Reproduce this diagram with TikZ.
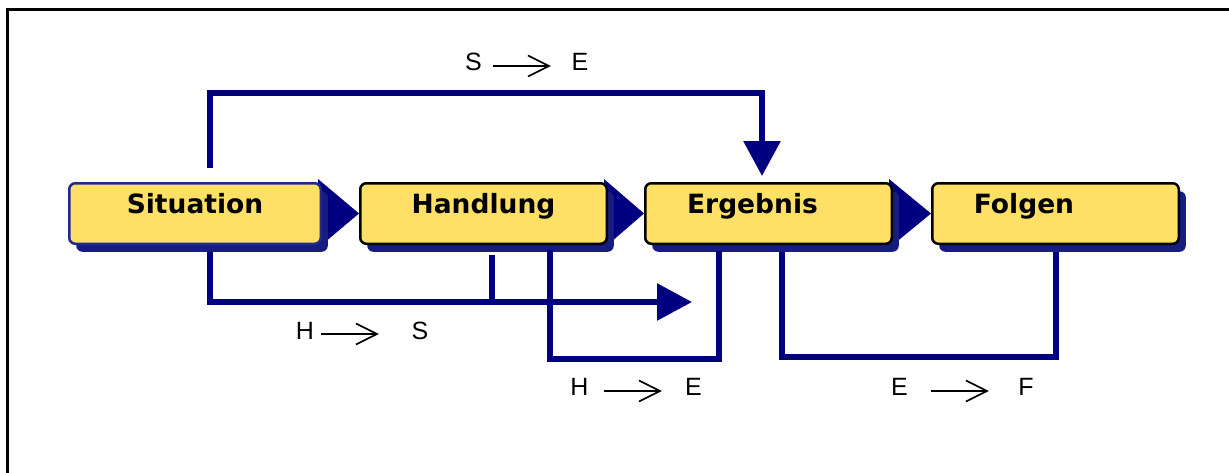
\documentclass[tikz,border=0pt]{standalone}
\usepackage{fontspec}
\setmainfont{Liberation Sans}
\newfontfamily\boxfont{DejaVu Sans}
\usetikzlibrary{arrows.meta,shadows,backgrounds}
\definecolor{boxyellow}{HTML}{FFE066}
\definecolor{navyline}{HTML}{000080}
\definecolor{navyshadow}{HTML}{161C80}
\definecolor{navyborder}{HTML}{1F2A8C}
\tikzset{
  stepbox/.style={draw=black, line width=2.5pt, fill=boxyellow, rounded corners=6pt,
    minimum width=246.5pt, minimum height=60.5pt, inner sep=0pt,
    drop shadow={shadow xshift=7pt, shadow yshift=-8pt, fill=navyshadow, opacity=1}},
  boxlbl/.style={font=\boxfont\bfseries\fontsize{26.5}{30}\selectfont, text height=19pt, text depth=19pt, inner sep=0pt, anchor=center},
  tri/.style={fill=navyline},
  conn/.style={draw=navyline, line width=6pt},
  bigtip/.style={-{Triangle[length=35pt,width=36pt]}},
  lbl/.style={font=\fontsize{25}{28}\selectfont, inner sep=0pt, anchor=base},
  lblarr/.style={draw=black, line width=1.6pt, -{Straight Barb[length=21pt,width=21pt]}},
  frameline/.style={draw=black, line width=3pt}
}
\begin{document}
\begin{tikzpicture}[x=1pt,y=-1pt]
\useasboundingbox (0,0) rectangle (1229,472);
\draw[frameline] (7,480) -- (7,9) -- (1235,9);

% boxes
\node[stepbox, draw=navyborder, minimum width=251.5pt, label={[boxlbl]center:Situation}] (sit) at (195,213.5) {};
\node[stepbox, label={[boxlbl]center:Handlung}] (hand) at (483.5,213.5) {};
\node[stepbox, label={[boxlbl,xshift=-16pt]center:Ergebnis}] (erg) at (768.5,213.5) {};
\node[stepbox, label={[boxlbl,xshift=-31.5pt]center:Folgen}] (fol) at (1055.5,213.5) {};

% triangles between the boxes
\begin{pgfonlayer}{background}
\fill[tri] ([xshift=-4pt,yshift=34.5pt]sit.east) -- ([xshift=-4pt,yshift=-34.5pt]sit.east) -- (hand.west) -- cycle;
\fill[tri] ([xshift=-4pt,yshift=34.5pt]hand.east) -- ([xshift=-4pt,yshift=-34.5pt]hand.east) -- (erg.west) -- cycle;
\fill[tri] ([xshift=-4pt,yshift=34.5pt]erg.east) -- ([xshift=-4pt,yshift=-34.5pt]erg.east) -- (fol.west) -- cycle;
\end{pgfonlayer}

% connectors
\coordinate (hsend) at (692,302);
\draw[conn,bigtip] ([xshift=15pt,yshift=14pt]sit.north) |- ([xshift=-6.5pt,yshift=89pt]erg.north) -- ([xshift=-6.5pt,yshift=6pt]erg.north);
\draw[conn] ([xshift=8.5pt,yshift=-9.5pt]hand.south) -- ++(0,47.5);
\draw[conn,bigtip] ([xshift=15pt,yshift=-7pt]sit.south) |- (hsend);
\draw[conn] ([xshift=66.5pt,yshift=-5pt]hand.south) -- ++(0,109) -| ([xshift=-49.5pt,yshift=-6pt]erg.south);
\draw[conn] ([xshift=13.5pt,yshift=-7pt]erg.south) -- ++(0,105) -| ([xshift=0.5pt,yshift=-7pt]fol.south);

% labels
\node[lbl] (l1a) at (473.5,70) {S};
\node[lbl] (l1b) at (580,70) {E};
\draw[lblarr] ([xshift=11.2pt,yshift=4pt]l1a.base east) -- ([xshift=-20.7pt,yshift=4pt]l1b.base west);

\node[lbl] (l2a) at (305,339) {H};
\node[lbl] (l2b) at (420,339) {S};
\draw[lblarr] ([xshift=7pt,yshift=5pt]l2a.base east) -- ([xshift=-32.7pt,yshift=5pt]l2b.base west);

\node[lbl] (l3a) at (579.5,395) {H};
\node[lbl] (l3b) at (693.5,395) {E};
\draw[lblarr] ([xshift=15.5pt,yshift=4pt]l3a.base east) -- ([xshift=-23.2pt,yshift=4pt]l3b.base west);

\node[lbl] (l4a) at (899.5,395) {E};
\node[lbl] (l4b) at (1026,395) {F};
\draw[lblarr] ([xshift=23.2pt,yshift=4pt]l4a.base east) -- ([xshift=-29.4pt,yshift=4pt]l4b.base west);
\end{tikzpicture}
\end{document}
